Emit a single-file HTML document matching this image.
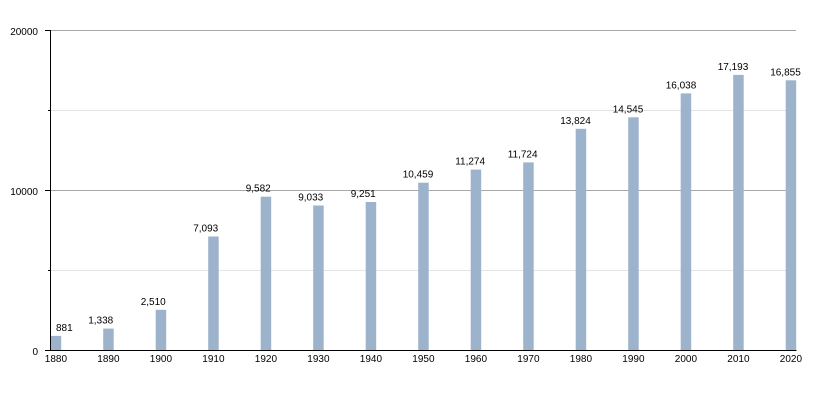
<!DOCTYPE html>
<html>
<head>
<meta charset="utf-8">
<style>
html,body{margin:0;padding:0;background:#fff;}
svg{display:block;}
text{font-family:"Liberation Sans",Arial,sans-serif;font-size:10px;fill:#000;}
</style>
</head>
<body>
<svg width="825" height="400" viewBox="0 0 825 400" xmlns="http://www.w3.org/2000/svg">
  <rect x="0" y="0" width="825" height="400" fill="#fff"/>
  <!-- minor gridlines -->
  <line x1="50" y1="110.5" x2="796" y2="110.5" stroke="#e4e4e4" stroke-width="1"/>
  <line x1="50" y1="270.5" x2="796" y2="270.5" stroke="#e4e4e4" stroke-width="1"/>
  <!-- major gridlines -->
  <line x1="50" y1="30.5" x2="796" y2="30.5" stroke="#a8a8a8" stroke-width="1"/>
  <line x1="50" y1="190.5" x2="796" y2="190.5" stroke="#a8a8a8" stroke-width="1"/>

  <!-- bars -->
  <g fill="#9cb3cb">
    <rect x="50.7" y="335.9" width="10.5" height="14.1"/>
    <rect x="103.2" y="328.6" width="10.5" height="21.4"/>
    <rect x="155.7" y="309.8" width="10.5" height="40.2"/>
    <rect x="208.2" y="236.5" width="10.5" height="113.5"/>
    <rect x="260.7" y="196.7" width="10.5" height="153.3"/>
    <rect x="313.2" y="205.5" width="10.5" height="144.5"/>
    <rect x="365.7" y="202.0" width="10.5" height="148.0"/>
    <rect x="418.2" y="182.7" width="10.5" height="167.3"/>
    <rect x="470.7" y="169.6" width="10.5" height="180.4"/>
    <rect x="523.2" y="162.4" width="10.5" height="187.6"/>
    <rect x="575.7" y="128.8" width="10.5" height="221.2"/>
    <rect x="628.2" y="117.3" width="10.5" height="232.7"/>
    <rect x="680.7" y="93.4" width="10.5" height="256.6"/>
    <rect x="733.2" y="74.9" width="10.5" height="275.1"/>
    <rect x="785.7" y="80.3" width="10.5" height="269.7"/>
  </g>

  <!-- axes -->
  <line x1="50.5" y1="30" x2="50.5" y2="350.5" stroke="#000" stroke-width="1"/>
  <line x1="45" y1="350.5" x2="796.5" y2="350.5" stroke="#000" stroke-width="1"/>
  <line x1="45" y1="30.5" x2="50" y2="30.5" stroke="#000" stroke-width="1"/>
  <line x1="45" y1="190.5" x2="50" y2="190.5" stroke="#000" stroke-width="1"/>
  <line x1="48" y1="110.5" x2="50" y2="110.5" stroke="#000" stroke-width="1"/>
  <line x1="48" y1="270.5" x2="50" y2="270.5" stroke="#000" stroke-width="1"/>

  <!-- y labels -->
  <text x="38" y="35" text-anchor="end">20000</text>
  <text x="38" y="195" text-anchor="end">10000</text>
  <text x="38" y="355" text-anchor="end">0</text>

  <!-- x labels -->
  <g text-anchor="middle">
    <text x="55.9" y="362">1880</text>
    <text x="108.4" y="362">1890</text>
    <text x="160.9" y="362">1900</text>
    <text x="213.4" y="362">1910</text>
    <text x="265.9" y="362">1920</text>
    <text x="318.4" y="362">1930</text>
    <text x="370.9" y="362">1940</text>
    <text x="423.4" y="362">1950</text>
    <text x="475.9" y="362">1960</text>
    <text x="528.4" y="362">1970</text>
    <text x="580.9" y="362">1980</text>
    <text x="633.4" y="362">1990</text>
    <text x="685.9" y="362">2000</text>
    <text x="738.4" y="362">2010</text>
    <text x="790.9" y="362">2020</text>
  </g>

  <!-- value labels -->
  <text x="56" y="331">881</text>
  <text x="88.2" y="323.6">1,338</text>
  <text x="140.7" y="304.8">2,510</text>
  <text x="193.2" y="231.5">7,093</text>
  <text x="245.7" y="191.7">9,582</text>
  <text x="298.2" y="200.5">9,033</text>
  <text x="350.7" y="197">9,251</text>
  <text x="402.7" y="177.7">10,459</text>
  <text x="455.2" y="164.6">11,274</text>
  <text x="507.7" y="157.4">11,724</text>
  <text x="560.2" y="123.8">13,824</text>
  <text x="612.7" y="112.3">14,545</text>
  <text x="665.7" y="88.4">16,038</text>
  <text x="717.7" y="69.9">17,193</text>
  <text x="770.2" y="75.3">16,855</text>
</svg>
</body>
</html>
